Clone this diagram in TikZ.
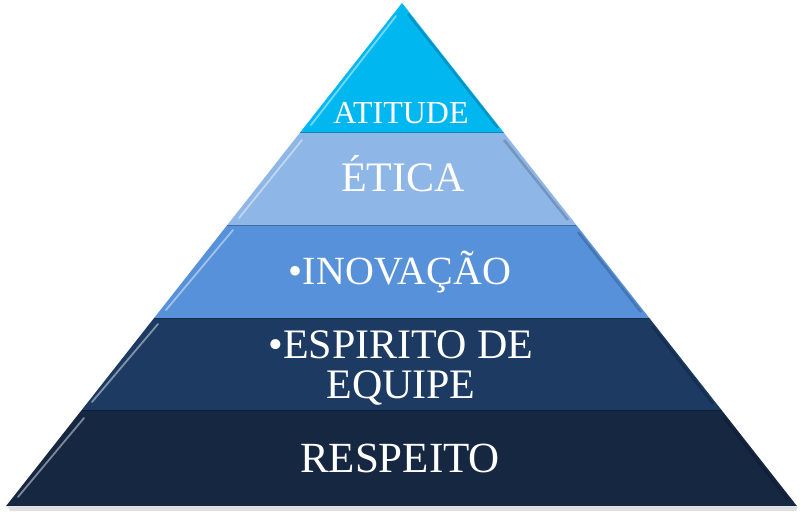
\documentclass[tikz,border=0pt]{standalone}
\usepackage{fontspec}
\setmainfont{Liberation Serif}
\begin{document}
\begin{tikzpicture}[x=1pt,y=-1pt,
  lbl/.style={text=white, align=center, inner sep=0pt},
  hilite/.style={white, opacity=0.45, line width=1.8pt, line cap=round},
  shade/.style={black, opacity=0.18, line width=2.5pt},
  sep/.style={black, opacity=0.25, line width=1pt}]
\useasboundingbox (0,0) rectangle (800,513);
\definecolor{cA}{RGB}{0,183,240}
\definecolor{cB}{RGB}{142,182,230}
\definecolor{cC}{RGB}{86,145,218}
\definecolor{cD}{RGB}{28,58,98}
\definecolor{cE}{RGB}{22,39,66}
% soft shadow under base
\fill[black!12] (8,507) -- (798,507) -- (796,511) -- (10,511) -- cycle;
% layers
\fill[cA] (402,3) -- (504.1,133) -- (299.7,133) -- cycle;
\fill[cB] (299.7,133) -- (504.1,133) -- (576.3,225) -- (227.3,225) -- cycle;
\fill[cC] (227.3,225) -- (576.3,225) -- (649.3,318) -- (154.1,318) -- cycle;
\fill[cD] (154.1,318) -- (649.3,318) -- (721.5,410) -- (81.7,410) -- cycle;
\fill[cE] (81.7,410) -- (721.5,410) -- (796.9,506) -- (6.1,506) -- cycle;
% bevel highlights (left inner edge)
\draw[hilite] (396,16) -- (311,125);
\draw[hilite] (302,140) -- (239,218);
\draw[hilite] (233,230) -- (166,310);
\draw[hilite] (158,324) -- (92,402);
\draw[hilite] (84,418) -- (18,497);
% bevel shading (right inner edge)
\draw[shade] (408,14) -- (498,128);
\draw[shade] (504,140) -- (568,220);
\draw[shade] (578,232) -- (641,312);
\draw[shade] (652,326) -- (713,404);
\draw[shade] (724,418) -- (788,500);
\draw[sep] (299.7,133) -- (504.1,133);
\draw[sep] (227.3,225) -- (576.3,225);
\draw[sep] (154.1,318) -- (649.3,318);
\draw[sep] (81.7,410) -- (721.5,410);
% labels
\node[lbl, font=\fontsize{32}{34}\selectfont, anchor=base] (t1) at (401,124) {ATITUDE};
\node[lbl, font=\fontsize{42}{44}\selectfont, anchor=base] (t2) at (403,192) {ÉTICA};
\node[lbl, font=\fontsize{40}{42}\selectfont, anchor=base] (t3) at (400,284) {•INOVAÇÃO};
\node[lbl, font=\fontsize{42}{40}\selectfont] (t4) at (401,368) {•ESPIRITO DE\\EQUIPE};
\node[lbl, font=\fontsize{43}{44}\selectfont, anchor=base] (t5) at (400,472) {RESPEITO};
\end{tikzpicture}
\end{document}
